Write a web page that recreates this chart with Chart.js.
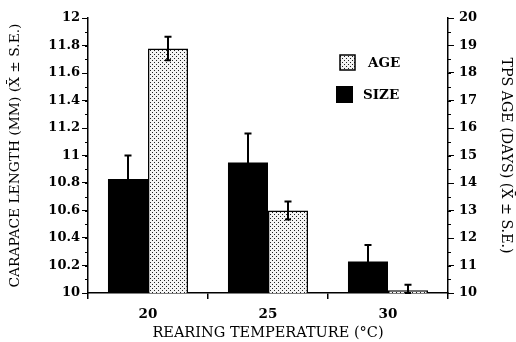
<!DOCTYPE html>
<html><head><meta charset="utf-8">
<script src="https://cdn.jsdelivr.net/npm/chart.js@4/dist/chart.umd.min.js"></script>
<style>html,body{margin:0;padding:0;background:#fff}canvas{display:block}</style>
</head><body>
<canvas id="c" width="516" height="342"></canvas>
<script>
const categories = ['20', '25', '30'];
const sizeValues = [10.83, 10.95, 10.23];
const sizeErrors = [0.17, 0.21, 0.12];
const ageValues = [18.89, 13.0, 10.1];
const ageErrors = [0.43, 0.33, 0.2];
const leftMin = 10, leftMax = 12, leftStep = 0.2, leftMinorStep = 0.1;
const rightMin = 10, rightMax = 20, rightStep = 1, rightMinorStep = 0.5;
const seriesNames = ['SIZE', 'AGE'];

const FONT = "'DejaVu Serif', 'Liberation Serif', serif";

// stipple pattern for AGE bars
const tile = document.createElement('canvas');
tile.width = 4; tile.height = 4;
const tctx = tile.getContext('2d');
tctx.fillStyle = '#f4f4f4'; tctx.fillRect(0, 0, 4, 4);
tctx.fillStyle = '#222';
tctx.fillRect(0, 0, 1, 1); tctx.fillRect(2, 2, 1, 1);
const stipple = tctx.createPattern(tile, 'repeat');

const errorPlugin = {
  id: 'errs',
  afterDatasetsDraw(chart) {
    const ctx = chart.ctx;
    const sets = [[0, 'y', sizeValues, sizeErrors], [1, 'y2', ageValues, ageErrors]];
    ctx.save();
    ctx.strokeStyle = '#000';
    ctx.lineWidth = 2;
    sets.forEach(([di, sid, vals, errs]) => {
      const meta = chart.getDatasetMeta(di);
      const sc = chart.scales[sid];
      meta.data.forEach((bar, j) => {
        const x = Math.round(bar.x);
        const yt = sc.getPixelForValue(vals[j] + errs[j]);
        const yb = sc.getPixelForValue(Math.max(sc.min, vals[j] - errs[j]));
        ctx.beginPath();
        ctx.moveTo(x, yt); ctx.lineTo(x, yb);
        ctx.moveTo(x - 3.5, yt); ctx.lineTo(x + 3.5, yt);
        ctx.moveTo(x - 3, yb); ctx.lineTo(x + 3, yb);
        ctx.stroke();
      });
    });
    ctx.restore();
  },
  afterDraw(chart) {
    const ctx = chart.ctx;
    const ca = chart.chartArea;
    ctx.save();
    // minor ticks
    ctx.strokeStyle = '#000';
    ctx.lineWidth = 1;
    const ys = chart.scales.y;
    for (let v = leftMin; v <= leftMax + 1e-9; v += leftMinorStep) {
      const p = Math.round(ys.getPixelForValue(v)) + 0.5;
      ctx.beginPath(); ctx.moveTo(ca.left - 3, p); ctx.lineTo(ca.left, p); ctx.stroke();
    }
    const y2 = chart.scales.y2;
    for (let v = rightMin; v <= rightMax + 1e-9; v += rightMinorStep) {
      const p = Math.round(y2.getPixelForValue(v)) + 0.5;
      ctx.beginPath(); ctx.moveTo(ca.right, p); ctx.lineTo(ca.right + 3, p); ctx.stroke();
    }
    // legend (AGE first, SIZE second)
    const lx = ca.left + 248, ly = ca.top + 37;
    ctx.font = "bold 13.5px " + FONT;
    ctx.textBaseline = 'middle';
    ctx.textAlign = 'left';
    ctx.fillStyle = stipple;
    ctx.fillRect(lx + 4, ly, 15, 15);
    ctx.strokeStyle = '#000'; ctx.lineWidth = 1.5;
    ctx.strokeRect(lx + 4, ly, 15, 15);
    ctx.fillStyle = '#000';
    ctx.fillText(seriesNames[1], lx + 32, ly + 8);
    ctx.fillRect(lx, ly + 31, 17, 17);
    ctx.fillText(seriesNames[0], lx + 27, ly + 40);
    ctx.restore();
  }
};

new Chart(document.getElementById('c'), {
  type: 'bar',
  data: {
    labels: categories,
    datasets: [
      { label: seriesNames[0], data: sizeValues, yAxisID: 'y', backgroundColor: '#000', borderColor: '#000', borderWidth: 0 },
      { label: seriesNames[1], data: ageValues, yAxisID: 'y2', backgroundColor: stipple, borderColor: '#000', borderWidth: 1.5 }
    ]
  },
  options: {
    responsive: false,
    animation: false,
    layout: { padding: { top: 18, left: 0, right: 0, bottom: 0 } },
    plugins: { legend: { display: false }, tooltip: { enabled: false } },
    datasets: { bar: { categoryPercentage: 0.667, barPercentage: 1.0 } },
    scales: {
      x: {
        grid: { display: true, drawOnChartArea: false, offset: true, tickLength: 6, color: '#000', lineWidth: 1.5 },
        border: { display: true, color: '#000', width: 1.5 },
        ticks: { color: '#000', padding: 7, font: { family: FONT, weight: 'bold', size: 13.5 } },
        title: { display: true, text: 'REARING TEMPERATURE (°C)', color: '#000', padding: { top: 0, bottom: 0 }, font: { family: FONT, size: 14.5 } },
        afterFit(s) { s.height = 49; }
      },
      y: {
        position: 'left',
        min: leftMin, max: leftMax,
        grid: { display: true, drawOnChartArea: false, tickLength: 6, color: '#000', lineWidth: 1 },
        border: { display: true, color: '#000', width: 1.5 },
        ticks: { stepSize: leftStep, color: '#000', padding: 2, font: { family: FONT, weight: 'bold', size: 13 },
          callback: v => String(Math.round(v * 10) / 10) },
        title: { display: true, text: 'CARAPACE LENGTH (MM) (X\u0304 \u00B1 S.E.)', color: '#000', padding: { top: 7, bottom: 0 }, font: { family: FONT, size: 13.8 } },
        afterFit(s) { s.width = 88; }
      },
      y2: {
        position: 'right',
        min: rightMin, max: rightMax,
        grid: { display: true, drawOnChartArea: false, tickLength: 6, color: '#000', lineWidth: 1 },
        border: { display: true, color: '#000', width: 1.5 },
        ticks: { stepSize: rightStep, color: '#000', padding: 5, font: { family: FONT, weight: 'bold', size: 13 } },
        title: { display: true, text: 'TPS AGE (DAYS) (X\u0304 \u00B1 S.E.)', color: '#000', padding: { top: 1.5, bottom: 0 }, font: { family: FONT, size: 14.2 } },
        afterFit(s) { s.width = 68; }
      }
    }
  },
  plugins: [errorPlugin]
});
</script>
</body></html>
